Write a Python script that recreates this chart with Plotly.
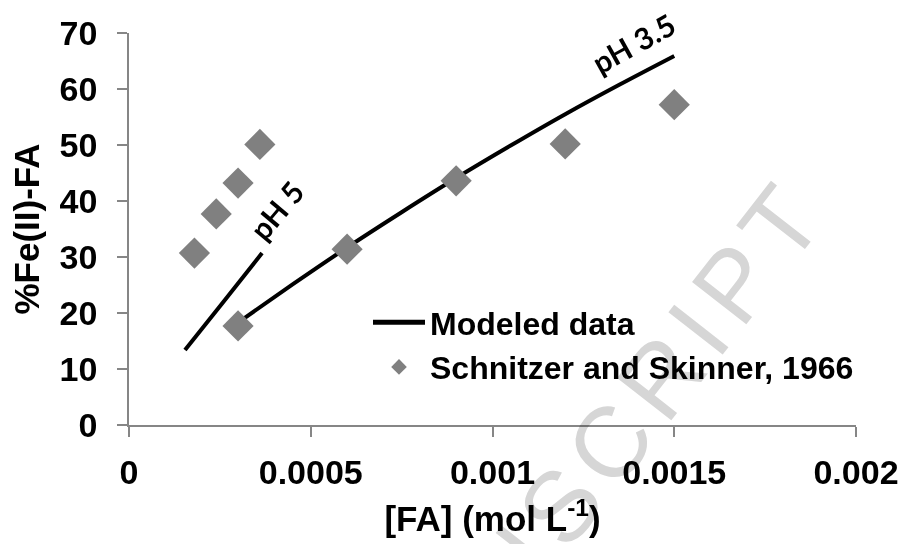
import math
import plotly.graph_objects as go

# ---------------- data ----------------
fa_obs_ph5 = [0.00018, 0.00024, 0.0003, 0.00036]
fe_obs_ph5 = [30.7, 37.7, 43.2, 50.1]
fa_obs_ph35 = [0.0003, 0.0006, 0.0009, 0.0012, 0.0015]
fe_obs_ph35 = [17.7, 31.4, 43.6, 50.2, 57.2]

fa_model_ph5 = [0.000154, 0.00026, 0.000366]
fe_model_ph5 = [13.4, 22.0, 30.7]
fa_model_ph35 = [0.0003, 0.00045, 0.0006, 0.00075, 0.0009, 0.00105, 0.0012, 0.00135, 0.0015]
fe_model_ph35 = [18.3, 25.1, 31.7, 38.0, 44.1, 49.9, 55.5, 60.8, 65.9]

x_tickvals = [0, 0.0005, 0.001, 0.0015, 0.002]
x_ticktext = ["0", "0.0005", "0.001", "0.0015", "0.002"]
y_tickvals = [0, 10, 20, 30, 40, 50, 60, 70]
y_ticktext = ["0", "10", "20", "30", "40", "50", "60", "70"]

series_names = ["Modeled data", "Schnitzer and Skinner, 1966"]
curve_labels = ["pH 5", "pH 3.5"]
watermark_letters = ["U", "S", "C", "R", "I", "P", "T"]

# ---------------- figure ----------------
W, H = 909, 544
ML, MR, MT, MB = 129, 53, 33, 119
PW, PH = W - ML - MR, H - MT - MB

AXIS_GRAY = "#868686"
FONT = "Liberation Sans, Arial, sans-serif"

fig = go.Figure()

fig.add_trace(go.Scatter(
    x=fa_model_ph5 + [None] + fa_model_ph35,
    y=fe_model_ph5 + [None] + fe_model_ph35,
    mode="lines",
    name=series_names[0],
    line=dict(color="black", width=4, shape="spline", smoothing=0.8),
    connectgaps=False,
))
fig.add_trace(go.Scatter(
    x=fa_obs_ph5 + fa_obs_ph35,
    y=fe_obs_ph5 + fe_obs_ph35,
    mode="markers",
    name=series_names[1],
    marker=dict(symbol="diamond", size=24, color="#808080", line=dict(width=0)),
))


def px2paper(px, py):
    return (px - ML) / PW, (MT + PH - py) / PH


annotations = []

# watermark (light gray, rotated) -- letter centres along a diagonal line
ang = 52.0
ux, uy = math.cos(math.radians(ang)), -math.sin(math.radians(ang))
s_center = (560.0, 506.0)
offsets = [-80.4, 0.0, 80.4, 163.6, 224.6, 282.8, 357.6]
for letter, d in zip(watermark_letters, offsets):
    px = s_center[0] + d * ux
    py = s_center[1] + d * uy
    xp, yp = px2paper(px, py)
    annotations.append(dict(
        text=letter, x=xp, y=yp, xref="paper", yref="paper",
        xanchor="center", yanchor="middle", showarrow=False,
        textangle=-ang,
        font=dict(family=FONT, size=100, color="#d6d6d6"),
    ))

# curve labels
annotations.append(dict(
    text=curve_labels[0], x=0.000405, y=38.4, xref="x", yref="y",
    showarrow=False, textangle=-50, xanchor="center", yanchor="middle",
    font=dict(family="Lato, Open Sans, sans-serif", size=30, color="black", weight="bold"),
))
annotations.append(dict(
    text=curve_labels[1], x=0.001387, y=68.2, xref="x", yref="y",
    showarrow=False, textangle=-29, xanchor="center", yanchor="middle",
    font=dict(family="Lato, Open Sans, sans-serif", size=30, color="black", weight="bold"),
))

lx, ly = px2paper(368, 295)

fig.update_layout(
    width=W, height=H,
    margin=dict(l=ML, r=MR, t=MT, b=MB, autoexpand=False),
    paper_bgcolor="white", plot_bgcolor="white",
    font=dict(family=FONT, color="black"),
    showlegend=True,
    legend=dict(
        x=lx, y=ly, xanchor="left", yanchor="top",
        bgcolor="rgba(0,0,0,0)", borderwidth=0,
        font=dict(family=FONT, size=32, color="black", weight="bold"),
        itemwidth=52, itemsizing="constant", tracegroupgap=0,
    ),
    annotations=annotations,
    xaxis=dict(
        range=[0, 0.002], tickvals=x_tickvals, ticktext=x_ticktext,
        showline=True, linecolor=AXIS_GRAY, linewidth=1.5,
        ticks="outside", ticklen=10, tickwidth=1.5, tickcolor=AXIS_GRAY,
        showgrid=False, zeroline=False, automargin=False,
        tickfont=dict(family=FONT, size=34, color="black", weight="bold"),
        ticklabelstandoff=6,
        title=dict(text="[FA] (mol L<sup>-1</sup>)", standoff=17,
                   font=dict(family=FONT, size=35, color="black", weight="bold")),
    ),
    yaxis=dict(
        range=[0, 70], tickvals=y_tickvals, ticktext=y_ticktext,
        showline=True, linecolor=AXIS_GRAY, linewidth=1.5,
        ticks="outside", ticklen=10, tickwidth=1.5, tickcolor=AXIS_GRAY,
        showgrid=False, zeroline=False, automargin=False,
        tickfont=dict(family=FONT, size=34, color="black", weight="bold"),
        ticklabelstandoff=13,
        title=dict(text="%Fe(II)-FA", standoff=9,
                   font=dict(family=FONT, size=35, color="black", weight="bold")),
    ),
)

post = """
document.body.style.margin = '0';
document.body.style.padding = '0';
var gd = document.getElementById('{plot_id}');
function blend(){
  document.querySelectorAll('g.annotation').forEach(function(e){ e.style.mixBlendMode = 'multiply'; });
}
blend();
if (gd && gd.on) { gd.on('plotly_afterplot', blend); }
setTimeout(blend, 50);
"""

fig.write_html("out.html", post_script=post, config={"displayModeBar": False})
